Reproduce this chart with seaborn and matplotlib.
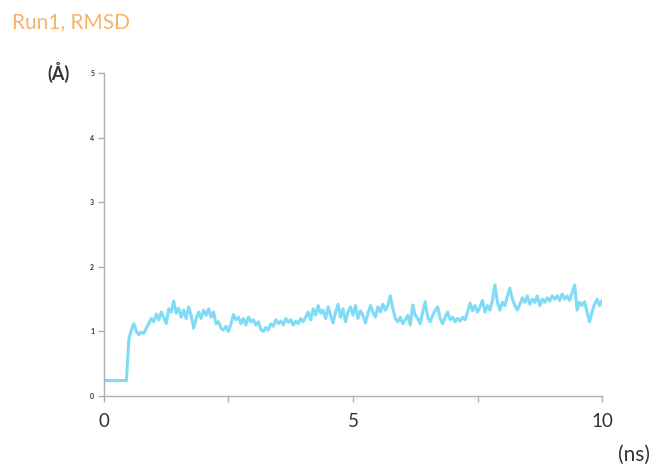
import numpy as np
import pandas as pd
import matplotlib
matplotlib.use("Agg")
import matplotlib.pyplot as plt
import seaborn as sns

title = "Run1, RMSD"
y_unit = "(Å)"
x_unit = "(ns)"
x_tick_labels = ["0", "5", "10"]
y_tick_labels = ["0", "1", "2", "3", "4", "5"]

# RMSD values (Å) sampled every 0.05 ns from 0 to 10 ns
rmsd = [
    0.24, 0.24, 0.24, 0.24, 0.24, 0.24, 0.24, 0.24, 0.24, 0.24,
    0.88, 1.02, 1.12, 1.00, 0.95, 0.99, 0.97, 1.05, 1.12, 1.20,
    1.15, 1.27, 1.18, 1.30, 1.22, 1.12, 1.35, 1.30, 1.47, 1.28,
    1.36, 1.22, 1.33, 1.20, 1.38, 1.25, 1.05, 1.20, 1.30, 1.20,
    1.33, 1.25, 1.35, 1.22, 1.30, 1.12, 1.15, 1.05, 1.02, 1.08,
    1.00, 1.12, 1.26, 1.18, 1.22, 1.12, 1.20, 1.10, 1.22, 1.15,
    1.18, 1.10, 1.15, 1.03, 1.00, 1.06, 1.02, 1.12, 1.08, 1.18,
    1.12, 1.16, 1.10, 1.20, 1.14, 1.18, 1.10, 1.16, 1.12, 1.20,
    1.15, 1.22, 1.30, 1.18, 1.35, 1.25, 1.40, 1.28, 1.33, 1.20,
    1.38, 1.25, 1.13, 1.30, 1.42, 1.22, 1.35, 1.15, 1.30, 1.38,
    1.25, 1.40, 1.20, 1.32, 1.25, 1.13, 1.28, 1.40, 1.30, 1.22,
    1.38, 1.30, 1.42, 1.33, 1.40, 1.55, 1.35, 1.20, 1.15, 1.22,
    1.12, 1.18, 1.25, 1.10, 1.41, 1.25, 1.20, 1.12, 1.30, 1.46,
    1.22, 1.15, 1.25, 1.32, 1.38, 1.20, 1.12, 1.22, 1.30, 1.18,
    1.22, 1.15, 1.20, 1.16, 1.22, 1.18, 1.30, 1.44, 1.32, 1.40,
    1.30, 1.38, 1.48, 1.30, 1.40, 1.33, 1.48, 1.72, 1.45, 1.33,
    1.45, 1.40, 1.55, 1.67, 1.50, 1.40, 1.33, 1.42, 1.52, 1.45,
    1.55, 1.42, 1.50, 1.45, 1.55, 1.40, 1.50, 1.45, 1.52, 1.47,
    1.55, 1.50, 1.55, 1.48, 1.58, 1.50, 1.55, 1.48, 1.60, 1.72,
    1.33, 1.45, 1.40, 1.46, 1.30, 1.15, 1.30, 1.42, 1.50, 1.40,
    1.48,
]
time_ns = np.linspace(0, 10, len(rmsd))
df = pd.DataFrame({"time": time_ns, "rmsd": rmsd})

sns.set_theme(style="white")
plt.rcParams["font.family"] = ["Lato", "DejaVu Sans"]

fig = plt.figure(figsize=(6.56, 4.68), dpi=100)
ax = fig.add_axes([0.1585, 0.1538, 0.7592, 0.6902])

sns.lineplot(data=df, x="time", y="rmsd", ax=ax, color="#80dcf6", linewidth=2.2)

ax.set_xlim(0, 10)
ax.set_ylim(0, 5)
ax.set_xlabel("")
ax.set_ylabel("")

ax.set_xticks([0, 2.5, 5, 7.5, 10])
ax.set_xticklabels([x_tick_labels[0], "", x_tick_labels[1], "", x_tick_labels[2]])
ax.set_yticks([0, 1, 2, 3, 4, 5])
ax.set_yticklabels(y_tick_labels)

for side in ["top", "right"]:
    ax.spines[side].set_visible(False)
for side in ["left", "bottom"]:
    ax.spines[side].set_color("#b0b0b0")
    ax.spines[side].set_linewidth(1.0)

ax.tick_params(axis="x", which="major", direction="out", length=4, width=1,
               color="#b0b0b0", labelsize=13.5, labelcolor="#333333", pad=8, bottom=True)
ax.tick_params(axis="y", which="major", direction="out", length=4, width=1,
               color="#b0b0b0", labelsize=5, labelcolor="#333333", pad=3, left=True)
for lbl in ax.get_yticklabels():
    lbl.set_fontweight("bold")

fig.text(12 / 656, 1 - 22 / 468, title, color="#f7b36a", fontsize=15,
         ha="left", va="center")
fig.text(58 / 656, 1 - 72 / 468, y_unit, color="#333333", fontsize=13,
         fontweight="bold", ha="center", va="center")
fig.text(634 / 656, 1 - 455 / 468, x_unit, color="#333333", fontsize=15,
         ha="center", va="center")

fig.savefig("out.png", dpi=100, facecolor="white")
